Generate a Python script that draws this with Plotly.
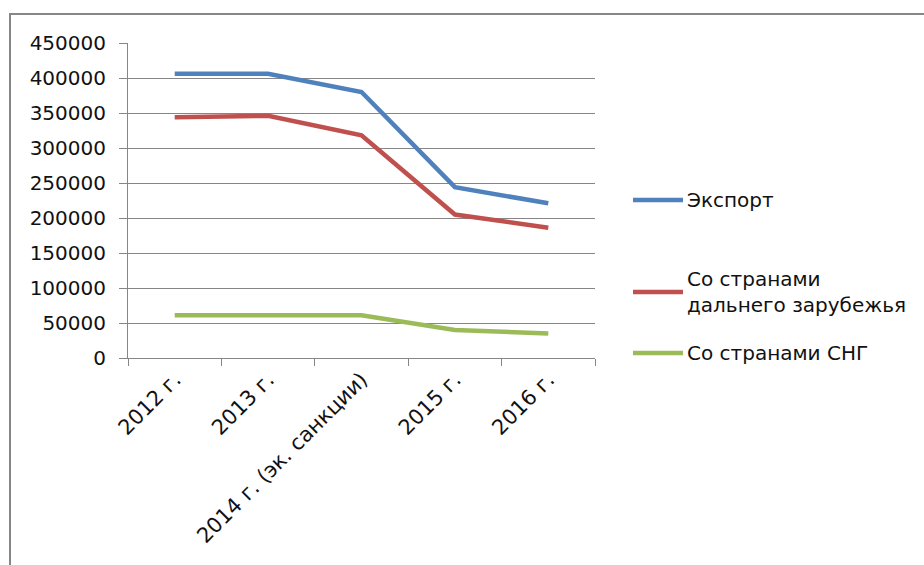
import plotly.graph_objects as go

categories = ["2012 г.", "2013 г.", "2014 г. (эк. санкции)", "2015 г.", "2016 г."]
export_vals = [406000, 406000, 380000, 244000, 221000]
far_abroad_vals = [344000, 346000, 318000, 205000, 186000]
cis_vals = [61000, 61000, 61000, 40000, 35000]
series_names = ["Экспорт", "Со странами<br>дальнего зарубежья", "Со странами СНГ"]
series_colors = ["#4F81BD", "#C0504D", "#9BBB59"]
y_ticks = [0, 50000, 100000, 150000, 200000, 250000, 300000, 350000, 400000, 450000]

W, H = 924, 565
L, R, T, B = 128, 595, 43, 358

def px_x(x):
    return (x - L) / (R - L)

def px_y(y):
    return (B - y) / (B - T)

FONT = "DejaVu Sans"
TXT = "#111111"
fig = go.Figure()
for name, vals, col in zip(series_names, [export_vals, far_abroad_vals, cis_vals], series_colors):
    fig.add_trace(go.Scatter(x=categories, y=vals, mode="lines", name=name,
                             line=dict(color=col, width=4.5), showlegend=False))

# manual legend (Excel style)
legend_y = [200, 292, 353]
for name, col, ly in zip(series_names, series_colors, legend_y):
    fig.add_shape(type="line", xref="paper", yref="paper",
                  x0=px_x(633), x1=px_x(683), y0=px_y(ly), y1=px_y(ly),
                  line=dict(color=col, width=4.5))
    fig.add_annotation(xref="paper", yref="paper", x=px_x(685), y=px_y(ly),
                       text=name, showarrow=False, xanchor="left", yanchor="middle",
                       align="left", font=dict(family=FONT, size=20, color=TXT))

# chart border
fig.add_shape(type="rect", xref="paper", yref="paper",
              x0=px_x(10), x1=px_x(1100), y0=px_y(14), y1=px_y(700),
              line=dict(color="#868686", width=2), layer="below")

fig.update_layout(
    width=W, height=H,
    margin=dict(l=L, r=W - R, t=T, b=H - B),
    paper_bgcolor="white", plot_bgcolor="white",
    font=dict(family=FONT, size=20, color=TXT),
)
fig.update_xaxes(type="category", tickangle=-45, showgrid=False,
                 showline=True, linecolor="#868686", linewidth=1,
                 ticks="outside", tickson="boundaries", ticklen=7, tickcolor="#868686",
                 tickfont=dict(family=FONT, size=21, color=TXT), range=[-0.5, 4.5])
fig.update_yaxes(range=[0, 450000], tickvals=y_ticks, ticktext=[str(v) for v in y_ticks],
                 showgrid=True, gridcolor="#868686", gridwidth=1,
                 showline=True, linecolor="#868686", linewidth=1,
                 ticks="outside", ticklen=8, tickcolor="#868686",
                 ticklabelstandoff=9, zeroline=False,
                 tickfont=dict(family=FONT, size=20, color=TXT))
fig.write_html("out.html")
